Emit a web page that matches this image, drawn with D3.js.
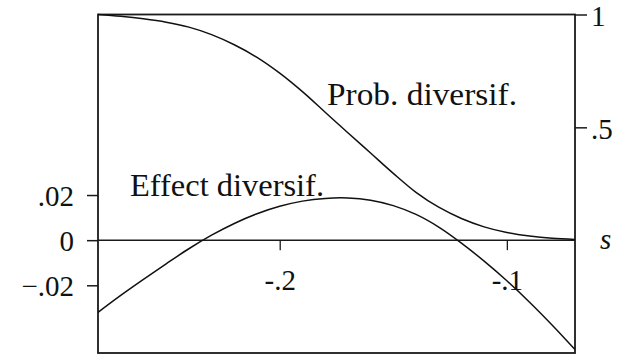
<!DOCTYPE html>
<html>
<head>
<meta charset="utf-8">
<script src="https://cdn.jsdelivr.net/npm/d3@7"></script>
</head>
<body style="margin:0">
<svg id="chart" width="628" height="358"></svg>
<script>
// Selectivity parameter s (horizontal axis)
const sValues = [-0.28, -0.27, -0.26, -0.25, -0.24, -0.23, -0.22, -0.21, -0.20, -0.19, -0.18,
                 -0.17, -0.16, -0.15, -0.14, -0.13, -0.12, -0.11, -0.10, -0.09, -0.08, -0.07];

// Probability of diversification (right axis, 0..1)
const probDiversif = [1.000, 0.992, 0.981, 0.966, 0.944, 0.911, 0.866, 0.810, 0.740, 0.658, 0.567,
                      0.476, 0.386, 0.296, 0.212, 0.146, 0.096, 0.059, 0.034, 0.018, 0.008, 0.003];

// Effect of diversification (left axis)
const effectDiversif = [-0.0320, -0.0245, -0.0174, -0.0105, -0.0038, 0.0022, 0.0074, 0.0117, 0.0150, 0.0173, 0.0185,
                        0.0187, 0.0177, 0.0153, 0.0114, 0.0058, -0.0013, -0.0093, -0.0180, -0.0275, -0.0377, -0.0485];

const leftTicks = [-0.02, 0, 0.02];
const leftTickLabels = ["\u2212.02", "0", ".02"];
const rightTicks = [0.5, 1];
const rightTickLabels = [".5", "1"];
const xTicks = [-0.2, -0.1];
const xTickLabels = ["-.2", "-.1"];

const svg = d3.select("#chart");
const L = 98, R = 575, T = 14.5, B = 353;
const baseSize = 26;          // glyphs are set at this size and enlarged by transform
const tickScale = 29 / 26;
const labelScale = 31 / 26;

const x = d3.scaleLinear().domain([-0.28, -0.07]).range([L, R]);
const yLeft = d3.scaleLinear().domain([-0.05, 0.1]).range([B, T]);
const yRight = d3.scaleLinear().domain([-0.5, 1]).range([B, T]);

const ink = "#1a1a1a";

function serifText(sel) {
  sel.style("font-family", '"Liberation Serif"').attr("font-size", baseSize).attr("fill", "#111");
}

// Move each text's position into a transform so the glyphs can be enlarged in place
function enlarge(sel, k) {
  sel.each(function () {
    const t = d3.select(this);
    const tx = +t.attr("x") || 0, ty = +t.attr("y") || 0;
    t.attr("x", null).attr("y", null)
     .attr("transform", `translate(${tx},${ty}) scale(${k})`);
  });
}

// Frame
svg.append("rect")
  .attr("x", L).attr("y", T).attr("width", R - L).attr("height", B - T)
  .attr("fill", "none").attr("stroke", ink).attr("stroke-width", 1.8);

function styleAxis(g) {
  g.attr("font-family", null).attr("font-size", null);
  g.select(".domain").remove();
  g.selectAll("line").attr("stroke", ink).attr("stroke-width", 1.5);
  g.selectAll("text").call(serifText).call(enlarge, tickScale);
}

// Left axis
const leftAxis = d3.axisLeft(yLeft)
  .tickValues(leftTicks)
  .tickSize(11)
  .tickPadding(13)
  .tickFormat((d, i) => leftTickLabels[i]);
const gl = svg.append("g").attr("transform", `translate(${L},0)`).call(leftAxis).call(styleAxis);
gl.selectAll("text").attr("dy", "0.36em");

// Right axis
const rightAxis = d3.axisRight(yRight)
  .tickValues(rightTicks)
  .tickSize(12)
  .tickPadding(4)
  .tickFormat((d, i) => rightTickLabels[i]);
const gr = svg.append("g").attr("transform", `translate(${R},0)`).call(rightAxis).call(styleAxis);
gr.selectAll("text").attr("dy", "0.38em");

// Horizontal axis along zero
const y0 = yLeft(0);
svg.append("line")
  .attr("x1", L).attr("x2", R).attr("y1", y0).attr("y2", y0)
  .attr("stroke", ink).attr("stroke-width", 1.5);
const bottomAxis = d3.axisBottom(x)
  .tickValues(xTicks)
  .tickSize(10)
  .tickPadding(19)
  .tickFormat((d, i) => xTickLabels[i]);
const gb = svg.append("g").attr("transform", `translate(0,${y0})`).call(bottomAxis).call(styleAxis);
gb.selectAll("line").attr("stroke-width", 1.3);

svg.append("text")
  .attr("x", 600).attr("y", y0).attr("dy", "0.3em")
  .call(serifText).style("font-style", "italic")
  .text("s")
  .call(enlarge, tickScale);

// Curves
const points = (vals) => sValues.map((s, i) => [s, vals[i]]);

svg.append("path")
  .datum(points(probDiversif))
  .attr("fill", "none").attr("stroke", "#111").attr("stroke-width", 1.5)
  .attr("d", d3.line().x(d => x(d[0])).y(d => yRight(d[1])).curve(d3.curveCatmullRom.alpha(0.5)));

svg.append("path")
  .datum(points(effectDiversif))
  .attr("fill", "none").attr("stroke", "#111").attr("stroke-width", 1.5)
  .attr("d", d3.line().x(d => x(d[0])).y(d => yLeft(d[1])).curve(d3.curveCatmullRom.alpha(0.5)));

// Curve labels
svg.append("text")
  .attr("x", 327).attr("y", 105)
  .call(serifText)
  .attr("textLength", 190 / labelScale).attr("lengthAdjust", "spacingAndGlyphs")
  .text("Prob. diversif.")
  .call(enlarge, labelScale);

svg.append("text")
  .attr("x", 130).attr("y", 196)
  .call(serifText)
  .attr("textLength", 194 / labelScale).attr("lengthAdjust", "spacingAndGlyphs")
  .text("Effect diversif.")
  .call(enlarge, labelScale);
</script>
</body>
</html>
